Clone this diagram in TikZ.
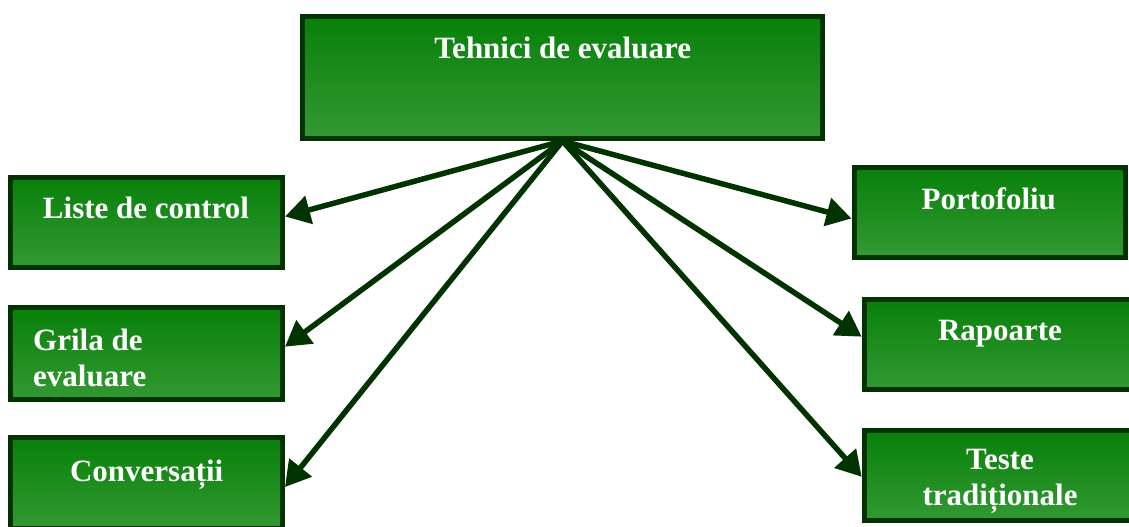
\documentclass[tikz,border=0pt]{standalone}
\usepackage{fontspec}
\setmainfont{Liberation Serif}
\usetikzlibrary{arrows.meta}
\definecolor{boxtop}{RGB}{8,128,10}
\definecolor{boxbot}{RGB}{51,153,51}
\definecolor{edgegreen}{RGB}{0,51,0}
\tikzset{
  gbox/.style={draw=edgegreen, line width=5pt, top color=boxtop, bottom color=boxbot, inner sep=0pt, minimum width=272pt, minimum height=90pt},
  lbl/.style={text=white, font=\fontsize{31}{35.5}\selectfont\bfseries, inner sep=0pt, anchor=base},
  conn/.style={draw=edgegreen, line width=5.5pt, -{Triangle[length=25pt,width=28pt]}},
}
\begin{document}
\begin{tikzpicture}[x=1pt,y=-1pt]
\useasboundingbox (0,0) rectangle (1129,527);
\clip (0,0) rectangle (1129,527);
% boxes
\node[gbox, minimum width=520pt, minimum height=122pt] (top) at (562.5,77.5) {};
\node[gbox, minimum height=90pt] (liste) at (146.5,222.5) {};
\node[gbox, minimum height=92pt] (grila) at (146.5,353.3) {};
\node[gbox, minimum height=91pt] (conv) at (146.5,483) {};
\node[gbox, minimum width=271.5pt] (port) at (989.75,212.5) {};
\node[gbox] (rap) at (1000.2,344.2) {};
\node[gbox] (teste) at (1000.2,475.8) {};
% labels
\node[lbl] (ttop) at (562.7,59) {Tehnici de evaluare};
\node[lbl] (tliste) at (146,218) {Liste de control};
\node[lbl, align=left, anchor=base west] (tgrila) at (33,386) {Grila de\\evaluare};
\node[lbl] (tconv) at (146.7,481) {Conversații};
\node[lbl] (tport) at (988.8,209) {Portofoliu};
\node[lbl] (trap) at (1000,340) {Rapoarte};
\node[lbl, align=center] (tteste) at (1000,505) {Teste\\tradiționale};
% connectors
\draw[conn] (top.south) -- ([yshift=6pt]liste.east);
\draw[conn] (top.south) -- ([yshift=6.6pt]grila.east);
\draw[conn] (top.south) -- ([yshift=-4pt]conv.east);
\draw[conn] (top.south) -- ([yshift=-6pt]port.west);
\draw[conn] (top.south) -- ([yshift=7.5pt]rap.west);
\draw[conn] (top.south) -- ([yshift=-1pt]teste.west);
\end{tikzpicture}
\end{document}
